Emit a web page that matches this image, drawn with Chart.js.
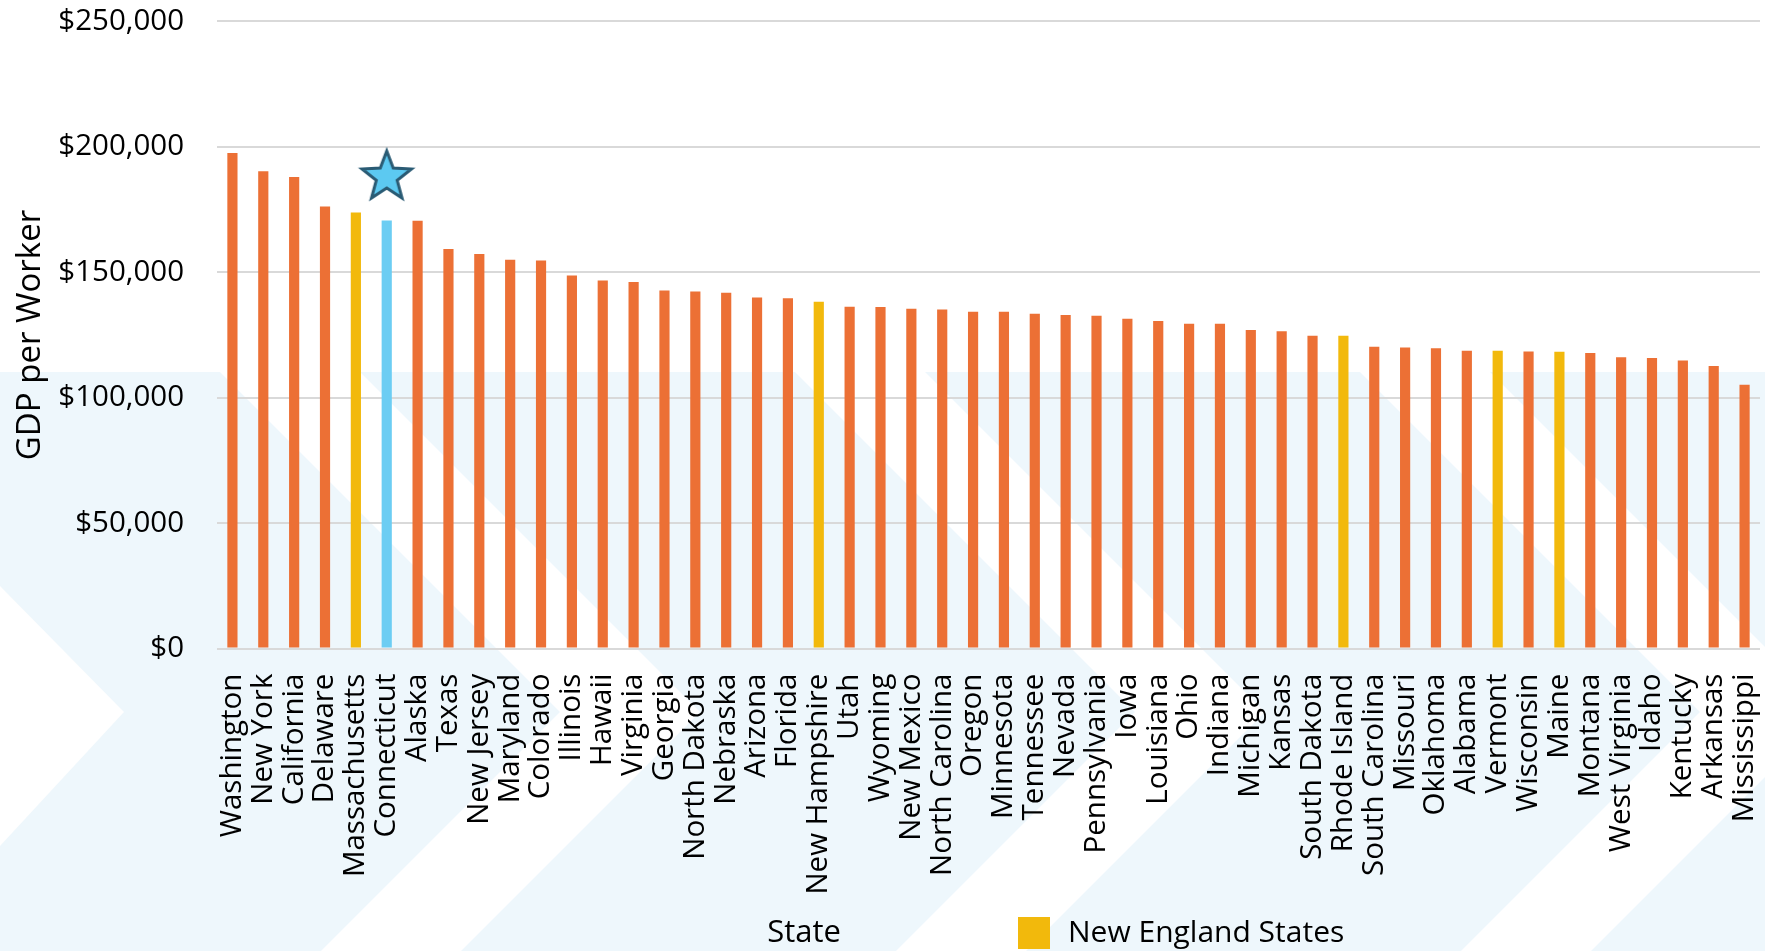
<!DOCTYPE html>
<html>
<head>
<meta charset="utf-8">
<title>GDP per Worker by State</title>
<script src="https://cdn.jsdelivr.net/npm/chart.js@4.4.1/dist/chart.umd.min.js"></script>
<style>
  html, body { margin: 0; padding: 0; background: #fff; }
  #wrap { width: 1765px; height: 951px; }
</style>
</head>
<body>
<div id="wrap"><canvas id="chart" width="1765" height="951"></canvas></div>
<script>
// states, sorted by GDP per worker
const states = [
  'Washington', 'New York', 'California', 'Delaware', 'Massachusetts', 'Connecticut',
  'Alaska', 'Texas', 'New Jersey', 'Maryland', 'Colorado', 'Illinois', 'Hawaii',
  'Virginia', 'Georgia', 'North Dakota', 'Nebraska', 'Arizona', 'Florida',
  'New Hampshire', 'Utah', 'Wyoming', 'New Mexico', 'North Carolina', 'Oregon',
  'Minnesota', 'Tennessee', 'Nevada', 'Pennsylvania', 'Iowa', 'Louisiana', 'Ohio',
  'Indiana', 'Michigan', 'Kansas', 'South Dakota', 'Rhode Island', 'South Carolina',
  'Missouri', 'Oklahoma', 'Alabama', 'Vermont', 'Wisconsin', 'Maine', 'Montana',
  'West Virginia', 'Idaho', 'Kentucky', 'Arkansas', 'Mississippi'
];

const gdpPerWorker = [
  197500, 190300, 188000, 176200, 173800, 170600,
  170500, 159300, 157300, 155000, 154700, 148700, 146700,
  146100, 142700, 142300, 141800, 139900, 139600,
  138300, 136300, 136200, 135500, 135200, 134300,
  134300, 133500, 133000, 132700, 131500, 130600, 129500,
  129500, 127000, 126500, 124700, 124700, 120300,
  120000, 119700, 118700, 118700, 118400, 118300, 117800,
  116100, 115800, 114800, 112600, 105200
];

const newEngland = ['Massachusetts', 'Connecticut', 'New Hampshire', 'Rhode Island', 'Vermont', 'Maine'];
const highlightState = 'Connecticut';
const starValue = 188000;
const yTicks = [0, 50000, 100000, 150000, 200000, 250000];

const ORANGE = '#EC7035';
const YELLOW = '#F2B90C';
const BLUE = '#6CCDF3';
const FONT = "'Open Sans', 'DejaVu Sans', sans-serif";

const barColors = states.map(s => {
  if (s === highlightState) return BLUE;
  if (newEngland.includes(s)) return YELLOW;
  return ORANGE;
});
const starData = states.map(s => (s === highlightState ? starValue : null));

// five point star used as the marker above Connecticut
function makeStar(R, r) {
  const size = Math.ceil(2 * R + 8);
  const c = document.createElement('canvas');
  c.width = size;
  c.height = size;
  const g = c.getContext('2d');
  const cx = size / 2, cy = size / 2;
  g.beginPath();
  for (let i = 0; i < 10; i++) {
    const rad = i % 2 ? r : R;
    const a = -Math.PI / 2 + i * Math.PI / 5;
    g.lineTo(cx + rad * Math.cos(a), cy + rad * Math.sin(a));
  }
  g.closePath();
  g.fillStyle = '#5CC9F1';
  g.fill();
  g.lineWidth = 3;
  g.lineJoin = 'miter';
  g.strokeStyle = '#2A5B74';
  g.stroke();
  return c;
}
const starImg = makeStar(26, 11);

// pale chevron background
const backdrop = {
  id: 'backdrop',
  beforeDraw(chart) {
    const { ctx, width, height } = chart;
    const top = 372, tipY = 712;
    ctx.save();
    ctx.fillStyle = '#fff';
    ctx.fillRect(0, 0, width, height);
    ctx.fillStyle = '#EEF7FC';
    ctx.fillRect(0, top, width, height - top);
    ctx.fillStyle = '#fff';
    // left white arrow
    ctx.beginPath();
    ctx.moveTo(0, tipY - 126);
    ctx.lineTo(124, tipY);
    ctx.lineTo(0, tipY + 134);
    ctx.closePath();
    ctx.fill();
    const bands = [[560, 700], [1135, 1265], [1700, 1830]];
    bands.forEach(([a, b]) => {
      const up = tipY - top, down = height - tipY;
      ctx.beginPath();
      ctx.moveTo(a - up, top);
      ctx.lineTo(b - up, top);
      ctx.lineTo(b, tipY);
      ctx.lineTo(b - down, height);
      ctx.lineTo(a - down, height);
      ctx.lineTo(a, tipY);
      ctx.closePath();
      ctx.fill();
    });
    ctx.restore();
  }
};

// x axis title and legend row
const footer = {
  id: 'footer',
  afterDraw(chart) {
    const { ctx } = chart;
    const y = 933;
    ctx.save();
    ctx.fillStyle = '#000';
    ctx.textBaseline = 'middle';
    ctx.font = '31px ' + FONT;
    ctx.textAlign = 'center';
    ctx.fillText('State', 804, y);
    ctx.fillStyle = YELLOW;
    ctx.fillRect(1018, 917, 32, 32);
    ctx.fillStyle = '#000';
    ctx.textAlign = 'left';
    ctx.font = '30px ' + FONT;
    ctx.fillText('New England States', 1068, y);
    ctx.restore();
  }
};

function noPadding(scale) {
  scale.paddingTop = 0;
  scale.paddingBottom = 0;
  scale.paddingLeft = 0;
  scale.paddingRight = 0;
}

new Chart(document.getElementById('chart'), {
  type: 'bar',
  data: {
    labels: states,
    datasets: [
      {
        type: 'line',
        label: highlightState,
        data: starData,
        showLine: false,
        pointStyle: starImg,
        pointHoverRadius: 0
      },
      {
        label: 'GDP per Worker',
        data: gdpPerWorker,
        backgroundColor: barColors,
        categoryPercentage: 1,
        barPercentage: 0.33
      }
    ]
  },
  options: {
    responsive: false,
    animation: false,
    devicePixelRatio: 1,
    layout: { padding: { top: 21.4, right: 5, left: 0, bottom: 0 } },
    scales: {
      x: {
        grid: { display: false },
        border: { display: false },
        ticks: {
          autoSkip: false,
          maxRotation: 90,
          minRotation: 90,
          padding: 17,
          color: '#000',
          font: { family: FONT, size: 29.5 }
        },
        afterFit(scale) {
          scale.height = 302.4;
          noPadding(scale);
        }
      },
      y: {
        min: 0,
        max: 250000,
        afterBuildTicks(scale) { scale.ticks = yTicks.map(v => ({ value: v })); },
        ticks: {
          padding: 33,
          color: '#000',
          font: { family: FONT, size: 29.5 },
          callback: v => '$' + v.toLocaleString('en-US')
        },
        grid: { color: '#D9D9D9', lineWidth: 2, drawTicks: false },
        border: { display: false },
        title: {
          display: true,
          text: 'GDP per Worker',
          color: '#000',
          font: { family: FONT, size: 33 },
          padding: { top: 11, bottom: 0 }
        },
        afterFit(scale) {
          scale.width = 217;
          noPadding(scale);
        }
      }
    },
    plugins: {
      legend: { display: false },
      tooltip: { enabled: false }
    }
  },
  plugins: [backdrop, footer]
});
</script>
</body>
</html>
